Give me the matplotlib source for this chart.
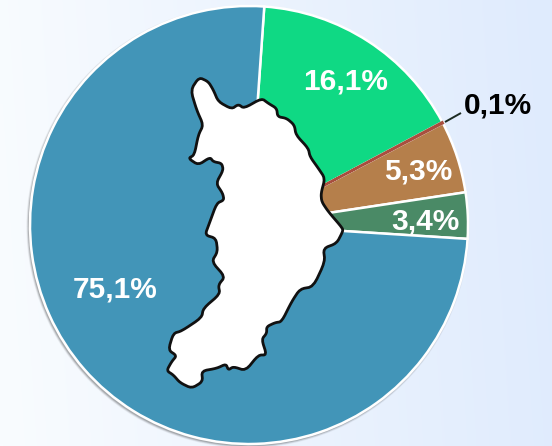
import numpy as np
import matplotlib
matplotlib.use("Agg")
import matplotlib.pyplot as plt
from matplotlib.patches import Polygon, Circle

values = [16.1, 0.1, 5.3, 3.4, 75.1]
labels = ["16,1%", "0,1%", "5,3%", "3,4%", "75,1%"]
colors = ["#0fd984", "#a84f3e", "#b57f4b", "#4a8a66", "#4295b8"]
label_pos = [(345.5, 81), (497.5, 105), (418, 172), (425, 222), (115.5, 289)]
label_colors = ["white", "black", "white", "white", "white"]

# Region outline (pixel position in the reference)
outline_zoom_top = [(335,115),(355,130),(380,145),(383,170),(410,175),(433,195),(438,225),(475,265),(480,290),(505,325),(525,355),(513,400),(515,425),(535,455),(578,505)]
outline_zoom_bottom = [(578,35),(560,70),(520,85),(525,125),(490,200),(450,207),(425,245),(395,305),(375,308),(350,320),(350,340),(335,358),(350,405),(325,405),(287,452),(250,440),(235,450),(228,432),(200,445),(155,453),(158,485),(125,505),(90,488),(70,465),(50,452),(65,425),(80,407),(55,390),(70,340),(95,333),(155,293),(160,265),(210,222),(205,195),(225,170),(185,125),(203,95),(198,55),(165,45)]
outline_zoom_left = [(178,490),(200,430),(222,420),(218,400),(198,370),(220,330),(215,310),(190,305),(180,292),(145,315),(115,295),(133,285),(145,225),(160,195),(140,150),(122,90),(147,52),(175,65),(190,90),(205,125),(245,147),(265,133),(282,145)]

W, H = 552, 446
cx, cy, r = 249, 225, 219

def round_corners(points, cut=0.2, passes=2):
    p = np.asarray(points, float)
    for _ in range(passes):
        q = np.roll(p, -1, axis=0)
        a = p * (1 - cut) + q * cut
        b = p * cut + q * (1 - cut)
        p = np.stack([a, b], axis=1).reshape(-1, 2)
    return p

fig = plt.figure(figsize=(W/100, H/100), dpi=100)
ax = fig.add_axes([0, 0, 1, 1])

# background gradient, mostly left to right
yy, xx = np.mgrid[0:1:100j, 0:1:100j]
t = np.clip(xx * 0.95 + (1 - yy) * 0.05, 0, 1)[..., None]
c0 = np.array([0xf9, 0xfc, 0xff]) / 255
c1 = np.array([0xdf, 0xeb, 0xfd]) / 255
ax.imshow(c0 + (c1 - c0) * t, extent=[0, W, H, 0], aspect="auto", zorder=0, interpolation="bilinear")

# shadow
for i, a in zip((5, 4, 3, 2, 1), (0.04, 0.05, 0.07, 0.09, 0.11)):
    ax.add_patch(Circle((cx - 1.2, cy + 1.5), r + i * 0.5, fc="black", ec="none", alpha=a, zorder=1))

# y axis is inverted, so increasing angle runs clockwise on screen
wedges, _ = ax.pie(values, colors=colors, startangle=-86.0, counterclock=True,
                   center=(cx, cy), radius=r, frame=False,
                   wedgeprops=dict(edgecolor="white", linewidth=1.8, zorder=2))
ax.set_xlim(0, W); ax.set_ylim(H, 0); ax.set_aspect("auto"); ax.axis("off")

# keep the very thin slice visible on top of its white borders
wedges[1].set_edgecolor(colors[1])
wedges[1].set_linewidth(1.6)
wedges[1].set_zorder(2.5)

pts = [(150 + x/3, 60 + y/3) for x, y in outline_zoom_top]
pts += [(150 + x/3, 220 + y/3) for x, y in outline_zoom_bottom]
pts += [(150 + x/3, 60 + y/3) for x, y in outline_zoom_left]
ax.add_patch(Polygon(round_corners(pts), closed=True, fc="white", ec="#111111", lw=2.0,
                     joinstyle="round", zorder=3))

# leader line
ax.plot([445, 461], [122, 113], color="#1c2b22", lw=1.4, zorder=3, solid_capstyle="butt")

for s, (x, y), c in zip(labels, label_pos, label_colors):
    ax.text(x, y, s, color=c, ha="center", va="center", fontsize=21.5, fontweight="bold",
            family="Liberation Sans", zorder=4)

fig.savefig("out.png", dpi=100)
